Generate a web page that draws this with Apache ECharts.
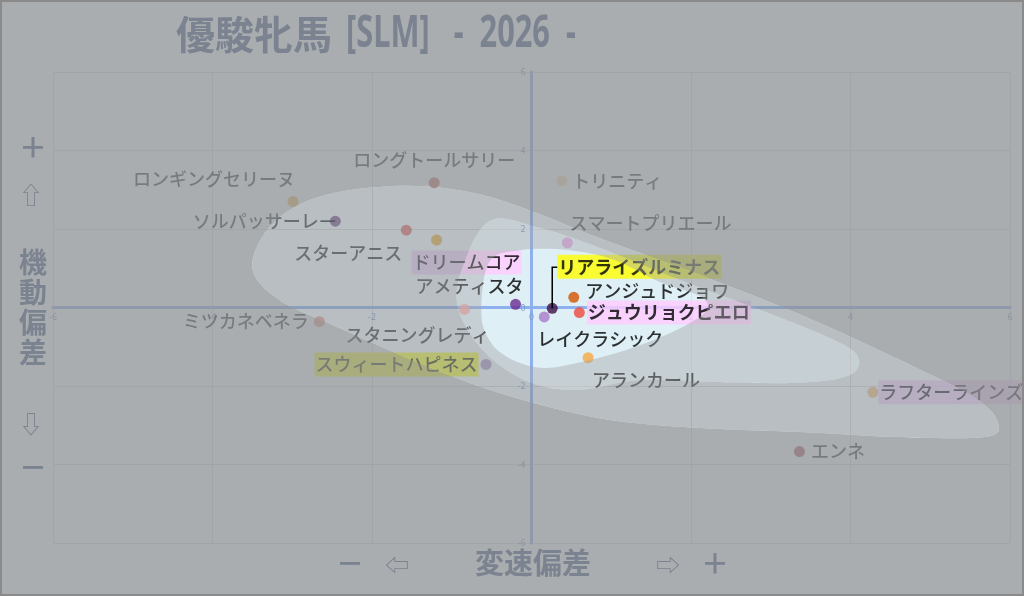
<!DOCTYPE html>
<html><head><meta charset="utf-8">
<script src="https://cdn.jsdelivr.net/npm/echarts@6/dist/echarts.min.js"></script>
<style>html,body{margin:0;padding:0;background:#fff}#c{width:1024px;height:596px}</style>
</head><body><div id="c"></div>
<script>
// ---- data ----
const names = ['ロングトールサリー','ロンギングセリーヌ','ソルパッサーレ','スターアニス','ドリームコア','アメティスタ','スタニングレディ','ミツカネベネラ','スウィートハピネス','トリニティ','スマートプリエール','リアライズルミナス','アンジュドジョワ','ジュウリョクピエロ','レイクラシック','アランカール','ラフターラインズ','エンネ'];
const xVals = [-1.22,-2.99,-2.46,-1.57,-1.19,-0.20,-0.84,-2.66,-0.57,0.38,0.45,0.26,0.53,0.60,0.16,0.71,4.28,3.36];
const yVals = [3.18,2.70,2.20,1.97,1.72,0.08,-0.05,-0.36,-1.45,3.23,1.65,-0.02,0.26,-0.13,-0.24,-1.28,-2.16,-3.67];
const dotColors = ['#c0504d','#f0a030','#5b2c6f','#e84a40','#f39c12','#6a2c91','#f4a6a0','#e8837a','#a67eb6','#ffd29a','#d897dc','#3d0f45','#d35400','#ee4a3e','#a77bc9','#f5a742','#f5b060','#a0283a'];
const axisMin = -6, axisMax = 6, axisStep = 2;
const titleMain = '優駿牝馬';
const titleSub = '[SLM]   -  2026  -';
const yName = '機動偏差';
const xName = '変速偏差';
// density contour blobs (data units)
const blobOuter = [[-3.50,1.01],[-3.26,2.10],[-2.66,2.82],[-1.66,3.10],[-0.78,2.94],[-0.03,2.48],[0.85,1.77],[2.11,0.83],[3.36,-0.17],[4.62,-1.34],[5.56,-2.31],[5.85,-2.94],[5.69,-3.30],[4.62,-3.30],[3.36,-3.17],[2.11,-3.07],[0.85,-2.82],[-0.40,-2.18],[-1.41,-1.41],[-2.41,-0.52],[-3.16,0.19]];
const blobMiddle = [[-0.50,2.23],[0.10,2.03],[0.85,1.52],[1.86,0.70],[2.86,-0.06],[3.74,-0.78],[4.09,-1.24],[3.99,-1.72],[3.36,-1.92],[2.36,-1.90],[1.36,-1.85],[0.60,-2.10],[-0.03,-1.90],[-0.59,-1.13],[-0.93,0.06],[-0.82,1.26]];
const blobCore = [[-0.53,1.16],[-0.15,1.46],[0.48,1.46],[1.04,1.21],[1.61,0.65],[2.11,0.29],[2.20,-0.06],[1.92,-0.47],[1.36,-0.96],[0.73,-1.34],[0.16,-1.54],[-0.28,-1.29],[-0.53,-0.83],[-0.63,-0.11]];

// ---- styles ----
const FONT = '"Noto Sans CJK JP","Noto Sans",sans-serif';
const PINK = '#ffccff', YELLOW = '#ffff00';
const labelCfg = {
 'ロングトールサリー':{position:'top'},
 'ロンギングセリーヌ':{position:'top',offset:[-79,0]},
 'ソルパッサーレ':{position:'left',distance:10,line:[[0,0],[-15,0]]},
 'スターアニス':{position:'bottom',offset:[-58,0]},
 'ドリームコア':{position:'bottom',offset:[30,0],bg:PINK},
 'アメティスタ':{position:'top',offset:[-46,4]},
 'スタニングレディ':{position:'bottom',offset:[-47,3]},
 'ミツカネベネラ':{position:'left',distance:4},
 'スウィートハピネス':{position:'left',distance:2,bg:YELLOW},
 'トリニティ':{position:'right',distance:4},
 'スマートプリエール':{position:'top',offset:[83,3]},
 'リアライズルミナス':{position:'top',bg:YELLOW,bold:true,offset:[87,-19],line:[[0,0],[0,-41],[5,-41]]},
 'アンジュドジョワ':{position:'right',offset:[0,-6]},
 'ジュウリョクピエロ':{position:'right',distance:2,bg:PINK,bold:true},
 'レイクラシック':{position:'bottom',offset:[56,0]},
 'アランカール':{position:'bottom',offset:[58,0]},
 'ラフターラインズ':{position:'right',distance:0,bg:PINK},
 'エンネ':{position:'right',distance:5}
};
const densityFill = 'rgb(222,239,245)';
const ringFill = ['rgba(141,147,149,0.757)','rgba(139,149,154,0.61)','rgba(163,163,164,0.41)'];
const sideColor = '#7c8390';

function signedArea(pts){let s=0;for(let i=0;i<pts.length;i++){const a=pts[i],b=pts[(i+1)%pts.length];s+=a[0]*b[1]-b[0]*a[1];}return s/2;}
function orient(pts,sign){return Math.sign(signedArea(pts))===sign?pts:pts.slice().reverse();}
function smooth(pts){const n=pts.length;let d='M'+pts[0][0]+' '+pts[0][1];
 for(let i=0;i<n;i++){const p0=pts[(i-1+n)%n],p1=pts[i],p2=pts[(i+1)%n],p3=pts[(i+2)%n];
  const c1=[p1[0]+(p2[0]-p0[0])/6,p1[1]+(p2[1]-p0[1])/6];const c2=[p2[0]-(p3[0]-p1[0])/6,p2[1]-(p3[1]-p1[1])/6];
  d+=' C'+c1[0]+' '+c1[1]+' '+c2[0]+' '+c2[1]+' '+p2[0]+' '+p2[1];}
 return d+' Z';}

const scatterData = names.map((n,i)=>{const c=labelCfg[n]||{};
 return {name:n,value:[xVals[i],yVals[i]],itemStyle:{color:dotColors[i]},
  label:{show:true,formatter:'{b}',position:c.position||'right',distance:c.distance!=null?c.distance:5,offset:c.offset||[0,0],
   fontWeight:c.bold?'bold':500,backgroundColor:c.bg||'transparent',padding:[3,1]}};});
const leaderIdx = names.map((n,i)=>i).filter(i=>labelCfg[names[i]]&&labelCfg[names[i]].line);

const chart = echarts.init(document.getElementById('c'),null,{renderer:'canvas'});
const gridL=53,gridR=14,gridT=72,gridB=53,W=1024,H=596;
const axisCommon = {type:'value',min:axisMin,max:axisMax,interval:axisStep,z:1,
 axisLine:{onZero:false,lineStyle:{color:'#8fb0ee',width:3}},axisTick:{show:false},
 splitLine:{lineStyle:{color:'#dcdcdc',width:1}},
 axisLabel:{fontSize:9,color:'#7f9acc',margin:5,fontFamily:FONT}};
const sideText = (t,x,y,size,weight)=>({type:'text',x:x,y:y,z:100,silent:true,
 style:{text:t,fill:sideColor,font:(weight||'normal')+' '+size+'px '+FONT,align:'center',verticalAlign:'middle'}});

chart.setOption({
 animation:false,
 backgroundColor:'#ffffff',
 grid:{left:gridL,right:gridR,top:gridT,bottom:gridB},
 xAxis:Object.assign({},axisCommon,{position:'bottom',offset:-(H-gridT-gridB)/2}),
 yAxis:Object.assign({},axisCommon,{position:'left',offset:-(W-gridL-gridR)/2,axisLabel:Object.assign({},axisCommon.axisLabel,{margin:6})}),
 series:[
  {type:'custom',coordinateSystem:'cartesian2d',z:0,silent:true,clip:false,data:[[0,0]],
   renderItem:function(params,api){const B=blobMiddle.map(p=>api.coord(p));
    return {type:'path',shape:{pathData:smooth(B)},style:{fill:densityFill}};}},
  {type:'scatter',z:2,symbolSize:11,data:scatterData,
   label:{color:'#000',fontSize:18,fontFamily:FONT}},
  {type:'custom',coordinateSystem:'cartesian2d',z:3,silent:true,clip:false,data:leaderIdx.map(i=>[xVals[i],yVals[i],i]),
   renderItem:function(params,api){const i=api.value(2);const pt=api.coord([api.value(0),api.value(1)]);
    const off=labelCfg[names[i]].line;
    return {type:'polyline',shape:{points:off.map(o=>[pt[0]+o[0],pt[1]+o[1]])},style:{stroke:'#000',lineWidth:1.5,fill:null}};}},
  {type:'custom',coordinateSystem:'cartesian2d',z:50,silent:true,clip:false,data:[[0,0]],
   renderItem:function(params,api){const Wd=api.getWidth(),Hd=api.getHeight();
    const A=blobOuter.map(p=>api.coord(p)),B=blobMiddle.map(p=>api.coord(p)),C=blobCore.map(p=>api.coord(p));
    const rect='M0 0 L'+Wd+' 0 L'+Wd+' '+Hd+' L0 '+Hd+' Z';
    return {type:'group',children:[
     {type:'path',shape:{pathData:rect+' '+smooth(orient(A,-1))},style:{fill:ringFill[0]}},
     {type:'path',shape:{pathData:smooth(orient(A,1))+' '+smooth(orient(B,-1))},style:{fill:ringFill[1]}},
     {type:'path',shape:{pathData:smooth(orient(B,1))+' '+smooth(orient(C,-1))},style:{fill:ringFill[2]}}
    ]};}}
 ],
 graphic:[
  {type:'text',x:176,y:34,z:100,silent:true,style:{text:titleMain,fill:sideColor,font:'bold 39px '+FONT,verticalAlign:'middle'}},
  {type:'text',x:346,y:34,z:100,silent:true,scaleX:0.70,style:{text:titleSub,fill:sideColor,font:'bold 44px "Noto Sans"',verticalAlign:'middle'}},
  sideText('＋',33,147,28,'bold'),
  sideText('⇧',31,195,24),
  {type:'text',x:33,y:307,z:100,silent:true,style:{text:yName.split('').join('\n'),fill:sideColor,font:'bold 28px '+FONT,lineHeight:30,align:'center',verticalAlign:'middle'}},
  sideText('⇩',31,424,24),
  sideText('－',33,467,28,'bold'),
  sideText('－',350,563,28,'bold'),
  sideText('⇦',397,565,24),
  sideText(xName,533,563,29,'bold'),
  sideText('⇨',668,565,24),
  sideText('＋',715,563,28,'bold'),
  {type:'rect',z:101,silent:true,shape:{x:1,y:1,width:1022,height:594},style:{fill:'none',stroke:'#8a8a8a',lineWidth:2}}
 ]
});
</script></body></html>
